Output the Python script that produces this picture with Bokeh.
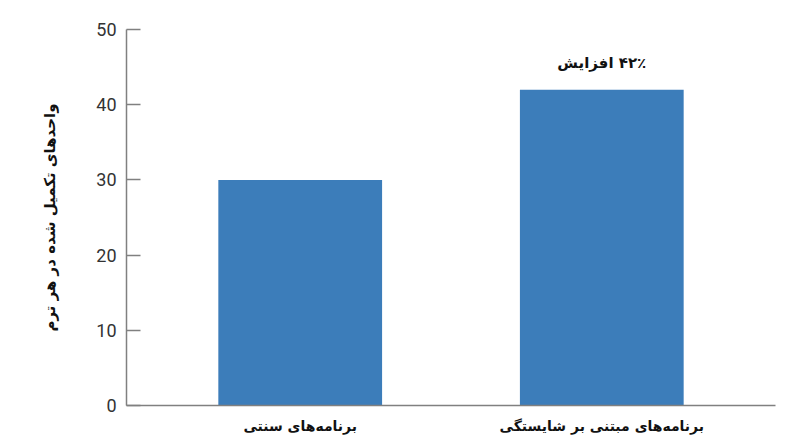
from bokeh.plotting import figure
from bokeh.models import FactorRange, Range1d, ColumnDataSource, FixedTicker
from bokeh.core.properties import value
from bokeh.embed import file_html
from bokeh.resources import INLINE

categories = ["برنامه‌های سنتی", "برنامه‌های مبتنی بر شایستگی"]
values = [30, 42]
annotation_text = "\u200F۴۲٪ افزایش"
y_label = "واحدهای تکمیل شده در هر ترم"
y_ticks = [0, 10, 20, 30, 40, 50]

bar_color = "#3c7dba"
axis_color = "#808080"

p = figure(
    x_range=FactorRange(*categories, range_padding=0.076, range_padding_units="absolute"),
    y_range=Range1d(0, 50),
    width=792, height=439,
    output_backend="svg", toolbar_location=None,
    min_border_left=126, min_border_right=17, min_border_top=29, min_border_bottom=34,
)
p.outline_line_color = None
p.background_fill_color = "white"
p.border_fill_color = "white"
p.xgrid.grid_line_color = None
p.ygrid.grid_line_color = None

src = ColumnDataSource(dict(cat=categories, val=values))
p.vbar(x="cat", top="val", width=0.543, source=src, color=bar_color, line_color=None)

ann = ColumnDataSource(dict(cat=[categories[1]], val=[values[1]], txt=[annotation_text]))
p.text(x="cat", y="val", text="txt", source=ann, y_offset=-27,
       text_align="center", text_baseline="middle",
       text_font=value("DejaVu Sans"), text_font_style="bold",
       text_font_size="15px", text_color="#111111")

# y axis
p.yaxis.ticker = FixedTicker(ticks=y_ticks)
p.yaxis.axis_label = y_label
p.yaxis.axis_label_text_font = "DejaVu Sans"
p.yaxis.axis_label_text_font_style = "bold"
p.yaxis.axis_label_text_font_size = "15px"
p.yaxis.axis_label_text_color = "#111111"
p.yaxis.axis_label_standoff = 34
p.yaxis.major_label_text_font = "Roboto"
p.yaxis.major_label_text_font_size = "18px"
p.yaxis.major_label_text_color = "#333333"
p.yaxis.major_label_standoff = 10
p.yaxis.major_tick_in = 14
p.yaxis.major_tick_out = 0
p.yaxis.minor_tick_line_color = None
p.yaxis.axis_line_color = axis_color
p.yaxis.major_tick_line_color = axis_color
p.yaxis.axis_line_width = 1.5
p.yaxis.major_tick_line_width = 1.5

# x axis
p.xaxis.major_label_text_font = "DejaVu Sans"
p.xaxis.major_label_text_font_style = "bold"
p.xaxis.major_label_text_font_size = "14px"
p.xaxis.major_label_text_color = "#111111"
p.xaxis.major_label_standoff = 12
p.xaxis.major_tick_in = 0
p.xaxis.major_tick_out = 0
p.xaxis.axis_line_color = axis_color
p.xaxis.axis_line_width = 1.5

open("out.html", "w").write(file_html(p, INLINE))
